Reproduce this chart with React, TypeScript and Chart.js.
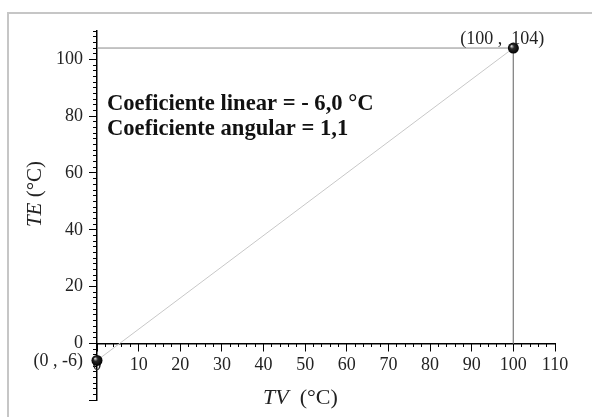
import React, { useEffect, useRef } from 'react';
import { Chart, registerables } from 'chart.js';

Chart.register(...registerables);

// ---- data ----
const xRange = [0, 110];
const yRange = [-20, 110];
const xMajorStep = 10;
const xMinorStep = 2;
const yMajorStep = 20;
const yMinorStep = 2;
const yTickLabels = [0, 20, 40, 60, 80, 100];
const xTickLabels = [0, 10, 20, 30, 40, 50, 60, 70, 80, 90, 100, 110];
const fitLine = [
  { x: 0, y: -6 },
  { x: 100, y: 104 },
];
const guideLine = [
  { x: 0, y: 104 },
  { x: 100, y: 104 },
  { x: 100, y: 0 },
];
const markedPoints = [
  { x: 0, y: -6 },
  { x: 100, y: 104 },
];
const pointLabels = ['(0 , -6)', '(100 ,  104)'];
const coefLines = ['Coeficiente linear = - 6,0 °C', 'Coeficiente angular = 1,1'];
const xTitle = ['TV', '  (°C)'];
const yTitle = ['TE', ' (°C)'];

const FONT = '"Liberation Serif", "Times New Roman", serif';

const textPlugin = {
  id: 'texts',
  afterDatasetsDraw(chart: any) {
    const { ctx, chartArea: a, scales } = chart;
    ctx.save();
    ctx.fillStyle = '#111';
    ctx.textBaseline = 'alphabetic';

    // coefficient text
    ctx.font = `bold 22.6px ${FONT}`;
    ctx.textAlign = 'left';
    coefLines.forEach((t, i) => ctx.fillText(t, a.left + 10, a.top + 79 + i * 25));

    // point labels
    ctx.font = `18px ${FONT}`;
    ctx.fillStyle = '#222';
    const p0 = markedPoints[0];
    const p0x = scales.x.getPixelForValue(p0.x);
    const p0y = scales.y.getPixelForValue(p0.y);
    ctx.textAlign = 'right';
    ctx.fillText(pointLabels[0], p0x - 14, p0y + 6);
    const p1 = markedPoints[1];
    const p1x = scales.x.getPixelForValue(p1.x);
    const p1y = scales.y.getPixelForValue(p1.y);
    ctx.textAlign = 'left';
    ctx.fillText(pointLabels[1], p1x - 53, p1y - 4);

    // x title
    ctx.textAlign = 'left';
    ctx.font = `italic 22px ${FONT}`;
    const xw1 = ctx.measureText(xTitle[0]).width;
    const xt = a.left + 166;
    const xb = a.bottom + 4;
    ctx.fillText(xTitle[0], xt, xb);
    ctx.font = `22px ${FONT}`;
    ctx.fillText(xTitle[1], xt + xw1, xb);

    // y title (rotated)
    ctx.font = `italic 21px ${FONT}`;
    const yw1 = ctx.measureText(yTitle[0]).width;
    ctx.font = `21px ${FONT}`;
    const yw2 = ctx.measureText(yTitle[1]).width;
    const total = yw1 + yw2;
    const cy = a.top + 163;
    ctx.translate(a.left - 56, cy + total / 2);
    ctx.rotate(-Math.PI / 2);
    ctx.font = `italic 21px ${FONT}`;
    ctx.fillText(yTitle[0], 0, 0);
    ctx.font = `21px ${FONT}`;
    ctx.fillText(yTitle[1], yw1, 0);
    ctx.restore();
  },
};

export default function App() {
  const ref = useRef<HTMLCanvasElement | null>(null);

  useEffect(() => {
    if (!ref.current) return;
    const tickFont = { family: FONT, size: 18 };
    const chart = new Chart(ref.current, {
      type: 'scatter',
      data: {
        datasets: [
          {
            label: 'points',
            data: markedPoints,
            order: 0,
            pointRadius: 5.5,
            pointHoverRadius: 5.5,
            pointBorderWidth: 0,
            pointBorderColor: '#000',
            clip: false as any,
            pointBackgroundColor: (c: any) => {
              const ch = c.chart;
              if (!c.parsed || !ch.scales || !ch.scales.x) return '#000';
              const px = ch.scales.x.getPixelForValue(c.parsed.x);
              const py = ch.scales.y.getPixelForValue(c.parsed.y);
              if (!isFinite(px) || !isFinite(py)) return '#000';
              const g = ch.ctx.createRadialGradient(px - 2, py - 2, 0.3, px, py, 5.5);
              g.addColorStop(0, '#d8d8d8');
              g.addColorStop(0.35, '#2a2a2a');
              g.addColorStop(1, '#000');
              return g;
            },
            xAxisID: 'x',
            yAxisID: 'y',
          } as any,
          {
            label: 'fit',
            data: fitLine,
            order: 2,
            showLine: true,
            borderColor: '#c8c8c8',
            borderWidth: 1,
            pointRadius: 0,
            xAxisID: 'x',
            yAxisID: 'y',
          },
          {
            label: 'guide',
            data: guideLine,
            order: 1,
            showLine: true,
            borderColor: '#8a8a8a',
            borderWidth: 1,
            pointRadius: 0,
            xAxisID: 'x',
            yAxisID: 'y',
          },
        ],
      },
      options: {
        animation: false,
        responsive: false,
        events: [],
        layout: { padding: { left: 0, top: 31, right: 37, bottom: 16 } },
        plugins: {
          legend: { display: false },
          tooltip: { enabled: false },
        },
        scales: {
          y: {
            type: 'linear',
            position: 'left',
            min: yRange[0],
            max: yRange[1],
            afterFit: (s: any) => {
              s.width = 97;
            },
            afterBuildTicks: (s: any) => {
              s.ticks = s.ticks.filter((t: any) => t.value <= yTickLabels[yTickLabels.length - 1]);
            },
            ticks: {
              stepSize: yMajorStep,
              autoSkip: false,
              padding: 6,
              font: tickFont,
              color: '#222',
              callback: (v: any) => (yTickLabels.includes(Number(v)) ? String(v) : ''),
            },
            grid: { drawOnChartArea: false, drawTicks: true, tickLength: 8, tickColor: '#000', tickWidth: 1 },
            border: { display: true, color: '#000', width: 1.5 },
          },
          y2: {
            type: 'linear',
            position: { x: 0 } as any,
            min: yRange[0],
            max: yRange[1],
            afterFit: (s: any) => {
              s.width = 0;
            },
            ticks: { stepSize: yMinorStep, autoSkip: false, display: false, maxTicksLimit: 1000 },
            grid: { drawOnChartArea: false, drawTicks: true, tickLength: 4, tickColor: '#000', tickWidth: 1 },
            border: { display: false },
          },
          x: {
            type: 'linear',
            position: { y: 0 } as any,
            min: xRange[0],
            max: xRange[1],
            afterFit: (s: any) => {
              s.height = 0;
            },
            ticks: {
              stepSize: xMajorStep,
              autoSkip: false,
              maxRotation: 0,
              padding: 4,
              font: tickFont,
              color: '#222',
              callback: (v: any) => (xTickLabels.includes(Number(v)) ? String(v) : ''),
            },
            grid: { drawOnChartArea: false, drawTicks: true, tickLength: 7, tickColor: '#000', tickWidth: 1 },
            border: { display: true, color: '#000', width: 1.5 },
          },
          x2: {
            type: 'linear',
            position: { y: 0 } as any,
            min: xRange[0],
            max: xRange[1],
            afterFit: (s: any) => {
              s.height = 0;
            },
            ticks: { stepSize: xMinorStep, autoSkip: false, display: false, maxTicksLimit: 1000 },
            grid: { drawOnChartArea: false, drawTicks: true, tickLength: 4, tickColor: '#000', tickWidth: 1 },
            border: { display: false },
          },
        } as any,
      },
      plugins: [textPlugin],
    });
    return () => chart.destroy();
  }, []);

  return (
    <div style={{ position: 'absolute', left: 0, top: 0, width: 592, height: 417, overflow: 'hidden', background: '#fff' }}>
      <div
        style={{
          position: 'absolute',
          left: 7,
          top: 12,
          width: 600,
          height: 420,
          borderLeft: '2px solid #c6c6c6',
          borderTop: '2px solid #c6c6c6',
        }}
      />
      <canvas ref={ref} width={592} height={417} style={{ position: 'absolute', left: 0, top: 0, width: 592, height: 417 }} />
    </div>
  );
}
